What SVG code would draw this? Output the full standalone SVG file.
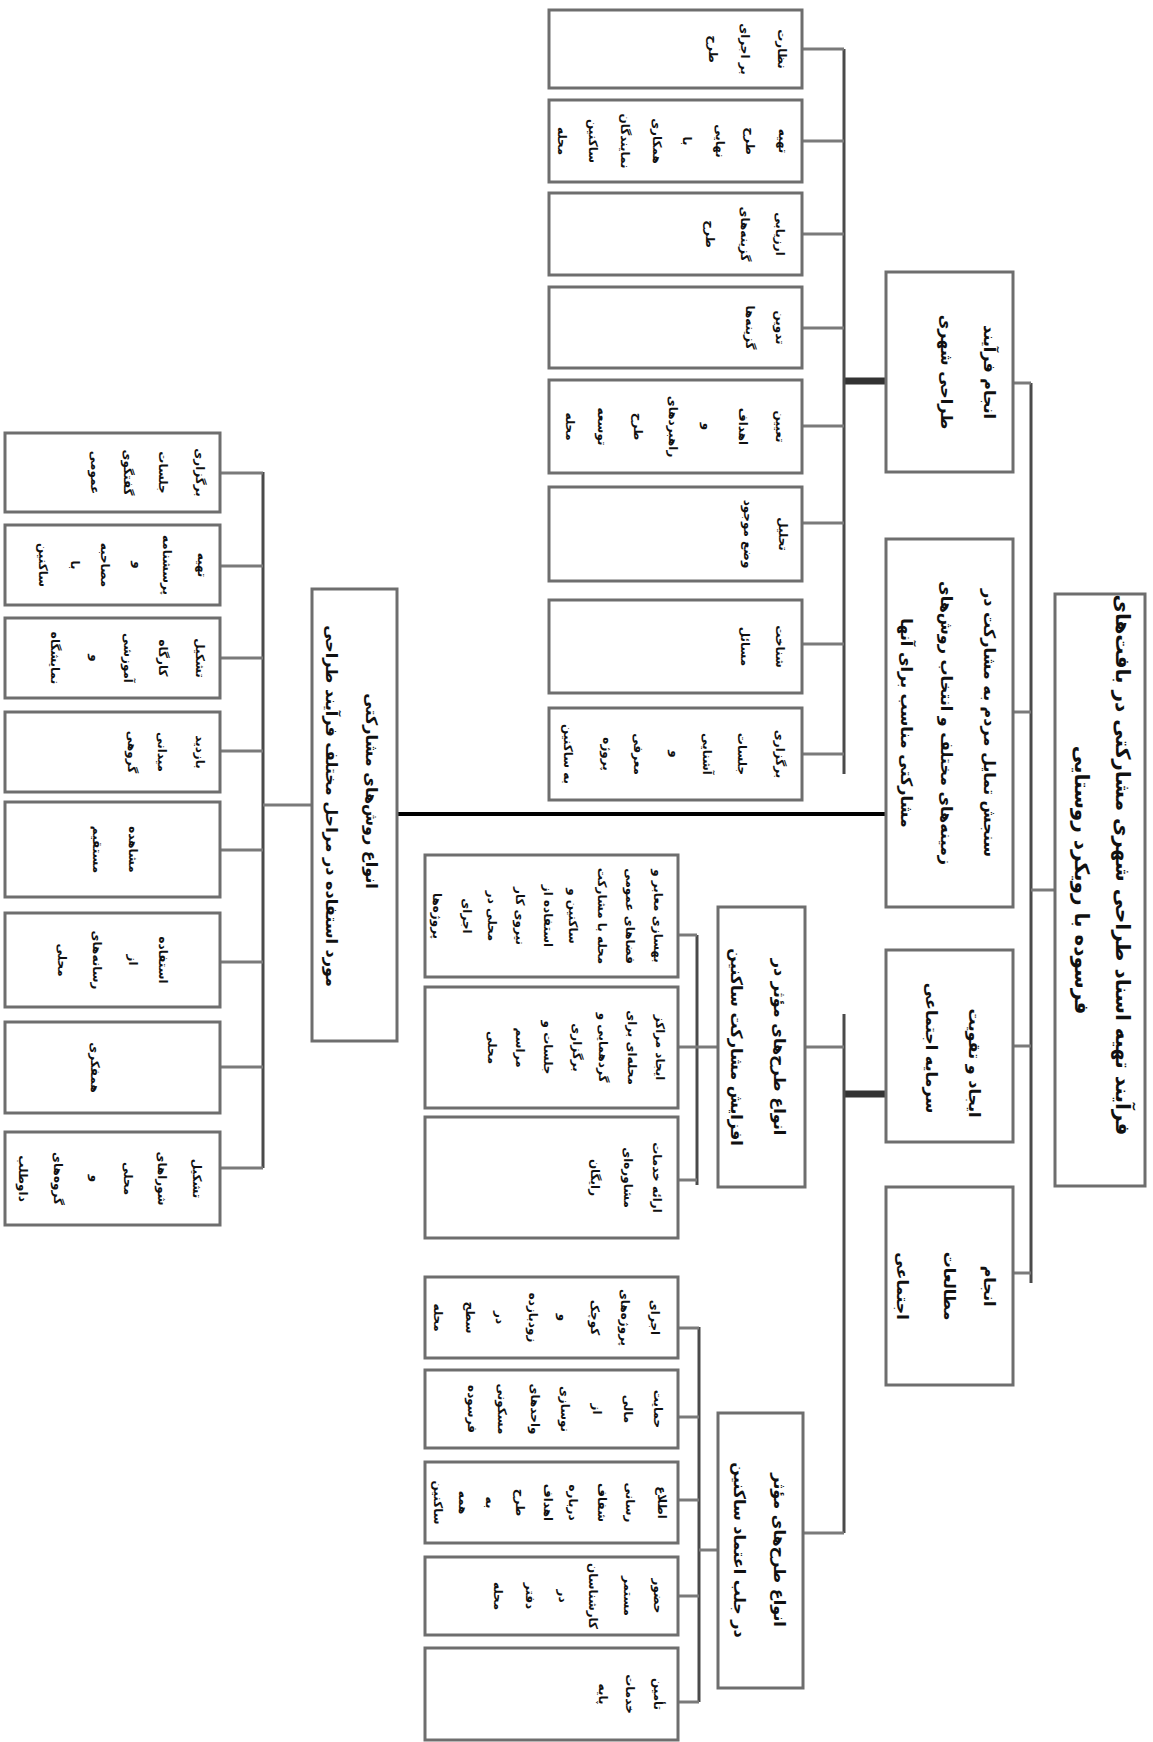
<svg xmlns="http://www.w3.org/2000/svg" width="1153" height="1742" viewBox="0 0 1153 1742">
<style>
.b{fill:#fff;stroke:#6e6e6e;stroke-width:3}
.c{stroke:#7a7a7a;stroke-width:3;fill:none}
.u{stroke:#4a4a4a;stroke-width:3;fill:none}
.k{stroke:#333;stroke-width:7;fill:none}
.m{stroke:#000;stroke-width:4;fill:none}
text{font-family:"DejaVu Sans","Noto Sans",sans-serif;font-weight:bold;fill:#111;text-anchor:middle;dominant-baseline:central}
.t0{font-size:20px}.t1{font-size:16px}.t3{font-size:12px}
</style>
<rect width="1153" height="1742" fill="#fff"/>
<g id="connectors">
<line class="u" x1="1031" y1="383" x2="1031" y2="1283"/>
<line class="c" x1="1013" y1="383" x2="1031" y2="383"/>
<line class="c" x1="1013" y1="712" x2="1031" y2="712"/>
<line class="c" x1="1013" y1="1046" x2="1031" y2="1046"/>
<line class="c" x1="1013" y1="1273" x2="1031" y2="1273"/>
<line class="c" x1="1031" y1="890" x2="1055" y2="890"/>
<line class="k" x1="844" y1="381" x2="886" y2="381"/>
<line class="u" x1="844" y1="49" x2="844" y2="774"/>
<line class="c" x1="802" y1="49" x2="844" y2="49"/>
<line class="c" x1="802" y1="141" x2="844" y2="141"/>
<line class="c" x1="802" y1="234" x2="844" y2="234"/>
<line class="c" x1="802" y1="328" x2="844" y2="328"/>
<line class="c" x1="802" y1="426" x2="844" y2="426"/>
<line class="c" x1="802" y1="523" x2="844" y2="523"/>
<line class="c" x1="802" y1="644" x2="844" y2="644"/>
<line class="c" x1="802" y1="754" x2="844" y2="754"/>
<line class="m" x1="397" y1="814" x2="886" y2="814"/>
<line class="u" x1="263" y1="472" x2="263" y2="1168"/>
<line class="c" x1="263" y1="805" x2="312" y2="805"/>
<line class="c" x1="220" y1="473" x2="263" y2="473"/>
<line class="c" x1="220" y1="566" x2="263" y2="566"/>
<line class="c" x1="220" y1="658" x2="263" y2="658"/>
<line class="c" x1="220" y1="751" x2="263" y2="751"/>
<line class="c" x1="220" y1="850" x2="263" y2="850"/>
<line class="c" x1="220" y1="962" x2="263" y2="962"/>
<line class="c" x1="220" y1="1067" x2="263" y2="1067"/>
<line class="c" x1="220" y1="1168" x2="263" y2="1168"/>
<line class="k" x1="844" y1="1094" x2="886" y2="1094"/>
<line class="u" x1="844" y1="1014" x2="844" y2="1533"/>
<line class="c" x1="805" y1="1047" x2="844" y2="1047"/>
<line class="c" x1="803" y1="1533" x2="844" y2="1533"/>
<line class="u" x1="697" y1="935" x2="697" y2="1185"/>
<line class="c" x1="697" y1="1047" x2="718" y2="1047"/>
<line class="c" x1="678" y1="935" x2="697" y2="935"/>
<line class="c" x1="678" y1="1047" x2="697" y2="1047"/>
<line class="c" x1="678" y1="1180" x2="697" y2="1180"/>
<line class="u" x1="699" y1="1327" x2="699" y2="1702"/>
<line class="c" x1="699" y1="1550" x2="718" y2="1550"/>
<line class="c" x1="678" y1="1328" x2="699" y2="1328"/>
<line class="c" x1="678" y1="1417" x2="699" y2="1417"/>
<line class="c" x1="678" y1="1500" x2="699" y2="1500"/>
<line class="c" x1="678" y1="1596" x2="699" y2="1596"/>
<line class="c" x1="678" y1="1702" x2="699" y2="1702"/>
</g>
<g id="root"><rect class="b" x="1055" y="594" width="90" height="592"/>
<text class="t0" transform="translate(1100,890) rotate(90)"><tspan x="-25" y="-23">فرآیند تهیه اسناد طراحی شهری مشارکتی در بافت‌های</tspan><tspan x="-10" y="18">فرسوده با رویکرد روستایی</tspan></text></g>
<g id="nA"><rect class="b" x="886" y="272" width="127" height="200"/>
<text class="t1" transform="translate(949.5,372) rotate(90)"><tspan x="0" y="-40.5">انجام فرآیند</tspan><tspan x="0" y="2.5">طراحی شهری</tspan></text></g>
<g id="nB"><rect class="b" x="886" y="539" width="127" height="368"/>
<text class="t1" transform="translate(949.5,723) rotate(90)"><tspan x="0" y="-40.5">سنجش تمایل مردم به مشارکت در</tspan><tspan x="0" y="2.5">زمینه‌های مختلف و انتخاب روش‌های</tspan><tspan x="0" y="42.5">مشارکتی مناسب برای آنها</tspan></text></g>
<g id="nC"><rect class="b" x="886" y="950" width="127" height="192"/>
<text class="t1" transform="translate(949.5,1046) rotate(90)"><tspan x="17" y="-25.5">ایجاد و تقویت</tspan><tspan x="2" y="17.5">سرمایه اجتماعی</tspan></text></g>
<g id="nD"><rect class="b" x="886" y="1187" width="127" height="198"/>
<text class="t1" transform="translate(949.5,1286) rotate(90)"><tspan x="0" y="-40.5">انجام</tspan><tspan x="0" y="-0.5">مطالعات</tspan><tspan x="0" y="46.5">اجتماعی</tspan></text></g>
<g id="nG"><rect class="b" x="312" y="589" width="85" height="452"/>
<text class="t1" transform="translate(354.5,815) rotate(90)"><tspan x="-24" y="-17.5">انواع روش‌های مشارکتی</tspan><tspan x="-9" y="22.5">مورد استفاده در مراحل مختلف فرآیند طراحی</tspan></text></g>
<g id="nE"><rect class="b" x="718" y="907" width="87" height="280"/>
<text class="t1" transform="translate(761.5,1047) rotate(90)"><tspan x="0" y="-18.5">انواع طرح‌های مؤثر در</tspan><tspan x="0" y="24.5">افزایش مشارکت ساکنین</tspan></text></g>
<g id="nF"><rect class="b" x="718" y="1413" width="85" height="275"/>
<text class="t1" transform="translate(760.5,1550) rotate(90)"><tspan x="0" y="-19.5">انواع طرح‌های مؤثر</tspan><tspan x="0" y="20.5">در جلب اعتماد ساکنین</tspan></text></g>
<g id="a1"><rect class="b" x="549" y="10" width="253" height="78"/>
<text class="t3" transform="translate(675.5,49) rotate(90)"><tspan x="0" y="-106.5">نظارت</tspan><tspan x="0" y="-69.5">بر اجرای</tspan><tspan x="0" y="-37.5">طرح</tspan></text></g>
<g id="a2"><rect class="b" x="549" y="100" width="253" height="82"/>
<text class="t3" transform="translate(675.5,141) rotate(90)"><tspan x="0" y="-107.5">تهیه</tspan><tspan x="0" y="-74.5">طرح</tspan><tspan x="0" y="-44.5">نهایی</tspan><tspan x="0" y="-11.5">با</tspan><tspan x="0" y="18.5">همکاری</tspan><tspan x="0" y="50.5">نمایندگان</tspan><tspan x="0" y="82.5">ساکنین</tspan><tspan x="0" y="113.5">محله</tspan></text></g>
<g id="a3"><rect class="b" x="549" y="193" width="253" height="82"/>
<text class="t3" transform="translate(675.5,234) rotate(90)"><tspan x="0" y="-104.5">ارزیابی</tspan><tspan x="0" y="-69.5">گزینه‌های</tspan><tspan x="0" y="-34.5">طرح</tspan></text></g>
<g id="a4"><rect class="b" x="549" y="287" width="253" height="81"/>
<text class="t3" transform="translate(675.5,327.5) rotate(90)"><tspan x="0" y="-104.5">تدوین</tspan><tspan x="0" y="-74.5">گزینه‌ها</tspan></text></g>
<g id="a5"><rect class="b" x="549" y="380" width="253" height="93"/>
<text class="t3" transform="translate(675.5,426.5) rotate(90)"><tspan x="0" y="-104.5">تعیین</tspan><tspan x="0" y="-67.5">اهداف</tspan><tspan x="0" y="-31.5">و</tspan><tspan x="0" y="2.5">راهبردهای</tspan><tspan x="0" y="37.5">طرح</tspan><tspan x="0" y="73.5">توسعه</tspan><tspan x="0" y="105.5">محله</tspan></text></g>
<g id="a6"><rect class="b" x="549" y="487" width="253" height="94"/>
<text class="t3" transform="translate(675.5,534) rotate(90)"><tspan x="0" y="-107.5">تحلیل</tspan><tspan x="0" y="-72.5">وضع موجود</tspan></text></g>
<g id="a7"><rect class="b" x="549" y="600" width="253" height="93"/>
<text class="t3" transform="translate(675.5,646.5) rotate(90)"><tspan x="0" y="-104.5">شناخت</tspan><tspan x="0" y="-69.5">مسائل</tspan></text></g>
<g id="a8"><rect class="b" x="549" y="708" width="253" height="92"/>
<text class="t3" transform="translate(675.5,754) rotate(90)"><tspan x="0" y="-104.5">برگزاری</tspan><tspan x="0" y="-66.5">جلسات</tspan><tspan x="0" y="-31.5">آشنایی</tspan><tspan x="0" y="0.5">و</tspan><tspan x="0" y="37.5">معرفی</tspan><tspan x="0" y="68.5">پروژه</tspan><tspan x="0" y="107.5">به ساکنین</tspan></text></g>
<g id="g1"><rect class="b" x="5" y="433" width="215" height="79"/>
<text class="t3" transform="translate(112.5,472.5) rotate(90)"><tspan x="0" y="-87.5">برگزاری</tspan><tspan x="0" y="-50.5">جلسات</tspan><tspan x="0" y="-15.5">گفتگوی</tspan><tspan x="0" y="17.5">عمومی</tspan></text></g>
<g id="g2"><rect class="b" x="5" y="525" width="215" height="80"/>
<text class="t3" transform="translate(112.5,565) rotate(90)"><tspan x="0" y="-89.5">تهیه</tspan><tspan x="0" y="-54.5">پرسشنامه</tspan><tspan x="0" y="-25.5">و</tspan><tspan x="0" y="7.5">مصاحبه</tspan><tspan x="0" y="37.5">با</tspan><tspan x="0" y="69.5">ساکنین</tspan></text></g>
<g id="g3"><rect class="b" x="5" y="618" width="215" height="80"/>
<text class="t3" transform="translate(112.5,658) rotate(90)"><tspan x="0" y="-87.5">تشکیل</tspan><tspan x="0" y="-50.5">کارگاه</tspan><tspan x="0" y="-15.5">آموزشی</tspan><tspan x="0" y="17.5">و</tspan><tspan x="0" y="57.5">نمایشگاه</tspan></text></g>
<g id="g4"><rect class="b" x="5" y="712" width="215" height="80"/>
<text class="t3" transform="translate(112.5,752) rotate(90)"><tspan x="0" y="-87.5">بازدید</tspan><tspan x="0" y="-49.5">میدانی</tspan><tspan x="0" y="-19.5">گروهی</tspan></text></g>
<g id="g5"><rect class="b" x="5" y="802" width="215" height="95"/>
<text class="t3" transform="translate(112.5,849.5) rotate(90)"><tspan x="0" y="-20.5">مشاهده</tspan><tspan x="0" y="15.5">مستقیم</tspan></text></g>
<g id="g6"><rect class="b" x="5" y="913" width="215" height="94"/>
<text class="t3" transform="translate(112.5,960) rotate(90)"><tspan x="0" y="-50.5">استفاده</tspan><tspan x="0" y="-20.5">از</tspan><tspan x="0" y="15.5">رسانه‌های</tspan><tspan x="0" y="50.5">محلی</tspan></text></g>
<g id="g7"><rect class="b" x="5" y="1022" width="215" height="91"/>
<text class="t3" transform="translate(112.5,1067.5) rotate(90)"><tspan x="0" y="17.5">همفکری</tspan></text></g>
<g id="g8"><rect class="b" x="5" y="1132" width="215" height="93"/>
<text class="t3" transform="translate(112.5,1178.5) rotate(90)"><tspan x="0" y="-84.5">تشکیل</tspan><tspan x="0" y="-49.5">شوراهای</tspan><tspan x="0" y="-15.5">محلی</tspan><tspan x="0" y="17.5">و</tspan><tspan x="0" y="54.5">گروه‌های</tspan><tspan x="0" y="89.5">داوطلب</tspan></text></g>
<g id="e1"><rect class="b" x="425" y="855" width="253" height="122"/>
<text class="t3" transform="translate(551.5,916) rotate(90)"><tspan x="0" y="-106.5">بهسازی معابر و</tspan><tspan x="0" y="-78.5">فضاهای عمومی</tspan><tspan x="0" y="-50.5">محله با مشارکت</tspan><tspan x="0" y="-21.5">ساکنین و</tspan><tspan x="0" y="3.5">استفاده از</tspan><tspan x="0" y="31.5">نیروی کار</tspan><tspan x="0" y="59.5">محلی در</tspan><tspan x="0" y="84.5">اجرای</tspan><tspan x="0" y="114.5">پروژه‌ها</tspan></text></g>
<g id="e2"><rect class="b" x="425" y="987" width="253" height="121"/>
<text class="t3" transform="translate(551.5,1047.5) rotate(90)"><tspan x="0" y="-108.5">ایجاد مراکز</tspan><tspan x="0" y="-80.5">محله‌ای برای</tspan><tspan x="0" y="-51.5">گردهمایی و</tspan><tspan x="0" y="-25.5">برگزاری</tspan><tspan x="0" y="3.5">جلسات و</tspan><tspan x="0" y="31.5">مراسم</tspan><tspan x="0" y="59.5">محلی</tspan></text></g>
<g id="e3"><rect class="b" x="425" y="1117" width="253" height="121"/>
<text class="t3" transform="translate(551.5,1177.5) rotate(90)"><tspan x="0" y="-105.5">ارائه خدمات</tspan><tspan x="0" y="-76.5">مشاوره‌ای</tspan><tspan x="0" y="-43.5">رایگان</tspan></text></g>
<g id="f1"><rect class="b" x="425" y="1277" width="253" height="81"/>
<text class="t3" transform="translate(551.5,1317.5) rotate(90)"><tspan x="0" y="-103.5">اجرای</tspan><tspan x="0" y="-73.5">پروژه‌های</tspan><tspan x="0" y="-43.5">کوچک</tspan><tspan x="0" y="-11.5">و</tspan><tspan x="0" y="18.5">زودبازده</tspan><tspan x="0" y="51.5">در</tspan><tspan x="0" y="81.5">سطح</tspan><tspan x="0" y="113.5">محله</tspan></text></g>
<g id="f2"><rect class="b" x="425" y="1370" width="253" height="78"/>
<text class="t3" transform="translate(551.5,1409) rotate(90)"><tspan x="0" y="-106.5">حمایت</tspan><tspan x="0" y="-76.5">مالی</tspan><tspan x="0" y="-45.5">از</tspan><tspan x="0" y="-13.5">نوسازی</tspan><tspan x="0" y="16.5">واحدهای</tspan><tspan x="0" y="49.5">مسکونی</tspan><tspan x="0" y="79.5">فرسوده</tspan></text></g>
<g id="f3"><rect class="b" x="425" y="1462" width="253" height="81"/>
<text class="t3" transform="translate(551.5,1502.5) rotate(90)"><tspan x="0" y="-110.5">اطلاع</tspan><tspan x="0" y="-78.5">رسانی</tspan><tspan x="0" y="-50.5">شفاف</tspan><tspan x="0" y="-21.5">درباره</tspan><tspan x="0" y="3.5">اهداف</tspan><tspan x="0" y="31.5">طرح</tspan><tspan x="0" y="61.5">به</tspan><tspan x="0" y="88.5">همه</tspan><tspan x="0" y="113.5">ساکنین</tspan></text></g>
<g id="f4"><rect class="b" x="425" y="1557" width="253" height="78"/>
<text class="t3" transform="translate(551.5,1596) rotate(90)"><tspan x="0" y="-106.5">حضور</tspan><tspan x="0" y="-76.5">مستمر</tspan><tspan x="0" y="-41.5">کارشناسان</tspan><tspan x="0" y="-11.5">در</tspan><tspan x="0" y="21.5">دفتر</tspan><tspan x="0" y="53.5">محله</tspan></text></g>
<g id="f5"><rect class="b" x="425" y="1648" width="253" height="92"/>
<text class="t3" transform="translate(551.5,1694) rotate(90)"><tspan x="0" y="-106.5">تأمین</tspan><tspan x="0" y="-78.5">خدمات</tspan><tspan x="0" y="-51.5">پایه</tspan></text></g>
</svg>
